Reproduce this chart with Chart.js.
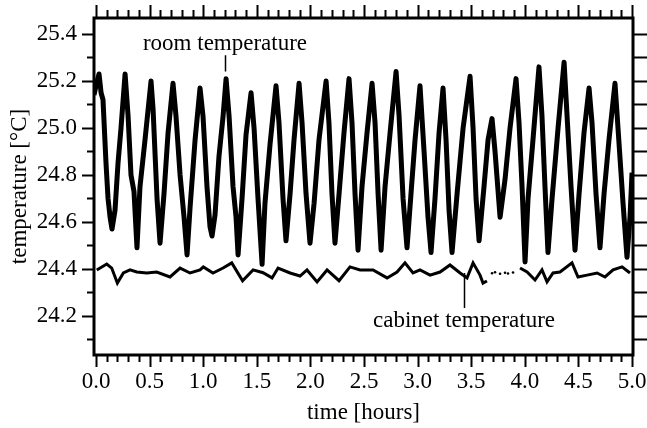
<!DOCTYPE html>
<html>
<head>
<meta charset="utf-8">
<script src="https://cdn.jsdelivr.net/npm/chart.js@4.4.1/dist/chart.umd.min.js"></script>
<style>
  body { margin: 0; background: #fff; }
</style>
</head>
<body>
<canvas id="tempChart" width="647" height="428"></canvas>
<script>
// room temperature (hours, degC)
const roomTime = [
  -0.019, 0.000, 0.028, 0.047, 0.065, 0.093, 0.112, 0.131, 0.149, 0.177, 0.205, 0.233,
  0.271, 0.299, 0.326, 0.354, 0.382, 0.410, 0.457, 0.513, 0.532, 0.569, 0.597, 0.634,
  0.672, 0.718, 0.746, 0.784, 0.821, 0.849, 0.877, 0.924, 0.970, 0.998, 1.035, 1.063,
  1.082, 1.110, 1.147, 1.185, 1.213, 1.241, 1.278, 1.306, 1.325, 1.362, 1.399, 1.446,
  1.474, 1.511, 1.549, 1.576, 1.623, 1.679, 1.707, 1.744, 1.772, 1.810, 1.847, 1.894,
  1.922, 1.959, 1.996, 2.034, 2.080, 2.146, 2.173, 2.201, 2.229, 2.267, 2.313, 2.360,
  2.388, 2.416, 2.444, 2.481, 2.528, 2.575, 2.603, 2.631, 2.659, 2.696, 2.743, 2.799,
  2.827, 2.864, 2.901, 2.938, 2.976, 3.022, 3.060, 3.097, 3.125, 3.162, 3.200, 3.237,
  3.265, 3.293, 3.321, 3.368, 3.424, 3.489, 3.517, 3.545, 3.573, 3.619, 3.657, 3.694,
  3.722, 3.769, 3.815, 3.862, 3.918, 3.946, 3.974, 4.002, 4.030, 4.076, 4.132, 4.160,
  4.188, 4.216, 4.254, 4.310, 4.366, 4.394, 4.431, 4.468, 4.506, 4.552, 4.599, 4.627,
  4.664, 4.701, 4.739, 4.785, 4.841, 4.869, 4.916, 4.953, 4.981, 5.000
];
const roomTemp = [
  25.14, 25.18, 25.23, 25.15, 25.12, 24.85, 24.70, 24.62, 24.57, 24.65, 24.85, 25.00,
  25.23, 25.05, 24.80, 24.73, 24.49, 24.75, 24.95, 25.20, 25.08, 24.70, 24.51, 24.72,
  24.98, 25.19, 25.05, 24.80, 24.62, 24.46, 24.66, 24.95, 25.17, 25.05, 24.75, 24.58,
  24.54, 24.63, 24.88, 25.05, 25.21, 25.05, 24.75, 24.62, 24.46, 24.70, 24.97, 25.15,
  25.00, 24.70, 24.42, 24.68, 24.93, 25.18, 25.02, 24.70, 24.52, 24.72, 24.95, 25.19,
  25.02, 24.72, 24.51, 24.68, 24.95, 25.20, 25.02, 24.72, 24.51, 24.72, 24.98, 25.21,
  25.02, 24.72, 24.48, 24.75, 24.98, 25.19, 25.02, 24.72, 24.48, 24.75, 24.98, 25.24,
  25.05, 24.70, 24.49, 24.72, 24.95, 25.18, 24.90, 24.62, 24.47, 24.70, 24.98, 25.17,
  24.95, 24.65, 24.47, 24.72, 25.00, 25.22, 25.00, 24.70, 24.52, 24.75, 24.95, 25.04,
  24.90, 24.62, 24.78, 25.00, 25.21, 25.02, 24.75, 24.43, 24.70, 24.95, 25.26, 25.05,
  24.75, 24.47, 24.70, 25.00, 25.28, 25.05, 24.75, 24.48, 24.72, 24.98, 25.17, 25.02,
  24.72, 24.49, 24.72, 24.95, 25.19, 25.00, 24.68, 24.45, 24.62, 24.81
];

// cabinet temperature (null = missing stretch)
const cabinetTime = [
  0.007, 0.100, 0.146, 0.199, 0.255, 0.317, 0.380, 0.473, 0.566, 0.690, 0.784, 0.877,
  0.970, 1.001, 1.091, 1.185, 1.266, 1.367, 1.465, 1.558, 1.642, 1.698, 1.810, 1.903,
  1.968, 2.062, 2.155, 2.267, 2.369, 2.463, 2.584, 2.715, 2.808, 2.882, 2.957, 3.022,
  3.116, 3.209, 3.302, 3.396, 3.461, 3.517, 3.582, 3.610, 3.647, 3.800, 3.955, 4.021,
  4.095, 4.160, 4.207, 4.263, 4.328, 4.440, 4.496, 4.580, 4.674, 4.748, 4.823, 4.907,
  4.981
];
const cabinetTemp = [
  24.396, 24.421, 24.404, 24.340, 24.383, 24.396, 24.387, 24.383, 24.387, 24.366, 24.404, 24.383,
  24.396, 24.409, 24.383, 24.404, 24.426, 24.350, 24.396, 24.384, 24.362, 24.404, 24.383, 24.370,
  24.396, 24.345, 24.396, 24.350, 24.409, 24.396, 24.396, 24.362, 24.387, 24.426, 24.383, 24.396,
  24.374, 24.387, 24.417, 24.383, 24.362, 24.426, 24.374, 24.340, 24.349, null, 24.404, 24.387,
  24.353, 24.396, 24.345, 24.383, 24.387, 24.426, 24.366, 24.374, 24.383, 24.366, 24.396, 24.409,
  24.383
];
const cabinetDotTime = [3.694, 3.722, 3.769, 3.815, 3.843, 3.890];
const cabinetDotTemp = [24.382, 24.386, 24.380, 24.384, 24.381, 24.385];

const xTickLabels = [0.0, 0.5, 1.0, 1.5, 2.0, 2.5, 3.0, 3.5, 4.0, 4.5, 5.0];
const yTickLabels = [24.2, 24.4, 24.6, 24.8, 25.0, 25.2, 25.4];

const FONT = '"Liberation Serif", "Times New Roman", serif';

const toPoints = (xs, ys) => xs.map((x, i) => ({ x: x, y: ys[i] }));

// frame, outer tick marks and the two labels with pointer lines
const framePlugin = {
  id: "frame",
  afterDraw(chart) {
    const { ctx, chartArea: a, scales: { x, y } } = chart;
    ctx.save();
    ctx.strokeStyle = "#000";
    ctx.lineWidth = 2;
    ctx.beginPath();
    for (let i = 0; i <= 50; i++) {
      const v = i / 10;
      const px = Math.round(x.getPixelForValue(v)) + 0.5;
      const major = i % 5 === 0;
      ctx.moveTo(px, a.bottom);
      ctx.lineTo(px, a.bottom + (major ? 12 : 7));
      ctx.moveTo(px, a.top);
      ctx.lineTo(px, a.top - (major ? 13 : 8));
    }
    for (let i = 241; i <= 254; i++) {
      const v = i / 10;
      const py = Math.round(y.getPixelForValue(v)) + 0.5;
      const major = i % 2 === 0;
      ctx.moveTo(a.left, py);
      ctx.lineTo(a.left - (major ? 12 : 7), py);
      ctx.moveTo(a.right, py);
      ctx.lineTo(a.right + 14, py);
    }
    ctx.stroke();

    ctx.lineWidth = 3;
    ctx.strokeRect(a.left, a.top, a.right - a.left, a.bottom - a.top);

    // annotations
    ctx.fillStyle = "#000";
    ctx.font = "23px " + FONT;
    ctx.textAlign = "center";
    ctx.textBaseline = "alphabetic";
    ctx.fillText("room temperature", x.getPixelForValue(1.203), y.getPixelForValue(25.332));
    ctx.fillText("cabinet temperature", x.getPixelForValue(3.433), y.getPixelForValue(24.153));
    ctx.lineWidth = 1.5;
    ctx.beginPath();
    let px = Math.round(x.getPixelForValue(1.203)) + 0.5;
    ctx.moveTo(px, y.getPixelForValue(25.31));
    ctx.lineTo(px, y.getPixelForValue(25.24));
    px = Math.round(x.getPixelForValue(3.433)) + 0.5;
    ctx.moveTo(px, y.getPixelForValue(24.383));
    ctx.lineTo(px, y.getPixelForValue(24.234));
    ctx.stroke();
    ctx.restore();
  }
};

new Chart(document.getElementById("tempChart"), {
  type: "line",
  data: {
    datasets: [
      {
        label: "room temperature",
        data: toPoints(roomTime, roomTemp),
        borderColor: "#000",
        borderWidth: 5,
        borderJoinStyle: "round",
        pointRadius: 0,
        tension: 0
      },
      {
        label: "cabinet temperature",
        data: toPoints(cabinetTime, cabinetTemp),
        borderColor: "#000",
        borderWidth: 3,
        pointRadius: 0,
        spanGaps: false,
        tension: 0
      },
      {
        label: "cabinet temperature (sparse)",
        data: toPoints(cabinetDotTime, cabinetDotTemp),
        showLine: false,
        pointRadius: 1.3,
        pointBackgroundColor: "#000",
        pointBorderWidth: 0
      }
    ]
  },
  options: {
    responsive: false,
    animation: false,
    layout: { padding: { top: 18, right: 14, bottom: 0, left: 0 } },
    plugins: { legend: { display: false }, tooltip: { enabled: false } },
    scales: {
      x: {
        type: "linear",
        min: -0.019,
        max: 5.009,
        grid: { display: false, drawTicks: false },
        border: { display: false },
        afterBuildTicks: (s) => { s.ticks = xTickLabels.map(v => ({ value: v })); },
        afterFit: (s) => { s.height = 73; s.paddingLeft = 0; s.paddingRight = 0; },
        ticks: {
          autoSkip: false,
          maxRotation: 0,
          padding: 13,
          color: "#000",
          font: { family: FONT, size: 23 },
          callback: (v) => Number(v).toFixed(1)
        },
        title: {
          display: true,
          text: "time [hours]",
          color: "#000",
          font: { family: FONT, size: 23 },
          padding: { top: 0, bottom: 1 }
        }
      },
      y: {
        min: 24.034,
        max: 25.468,
        grid: { display: false, drawTicks: false },
        border: { display: false },
        afterBuildTicks: (s) => { s.ticks = yTickLabels.map(v => ({ value: v })); },
        afterFit: (s) => { s.width = 94; s.paddingTop = 0; s.paddingBottom = 0; },
        ticks: {
          autoSkip: false,
          padding: 17,
          color: "#000",
          font: { family: FONT, size: 23 },
          callback: (v) => Number(v).toFixed(1)
        },
        title: {
          display: true,
          text: "temperature [°C]",
          color: "#000",
          font: { family: FONT, size: 23 },
          padding: { top: 6, bottom: 0 }
        }
      }
    }
  },
  plugins: [framePlugin]
});
</script>
</body>
</html>
